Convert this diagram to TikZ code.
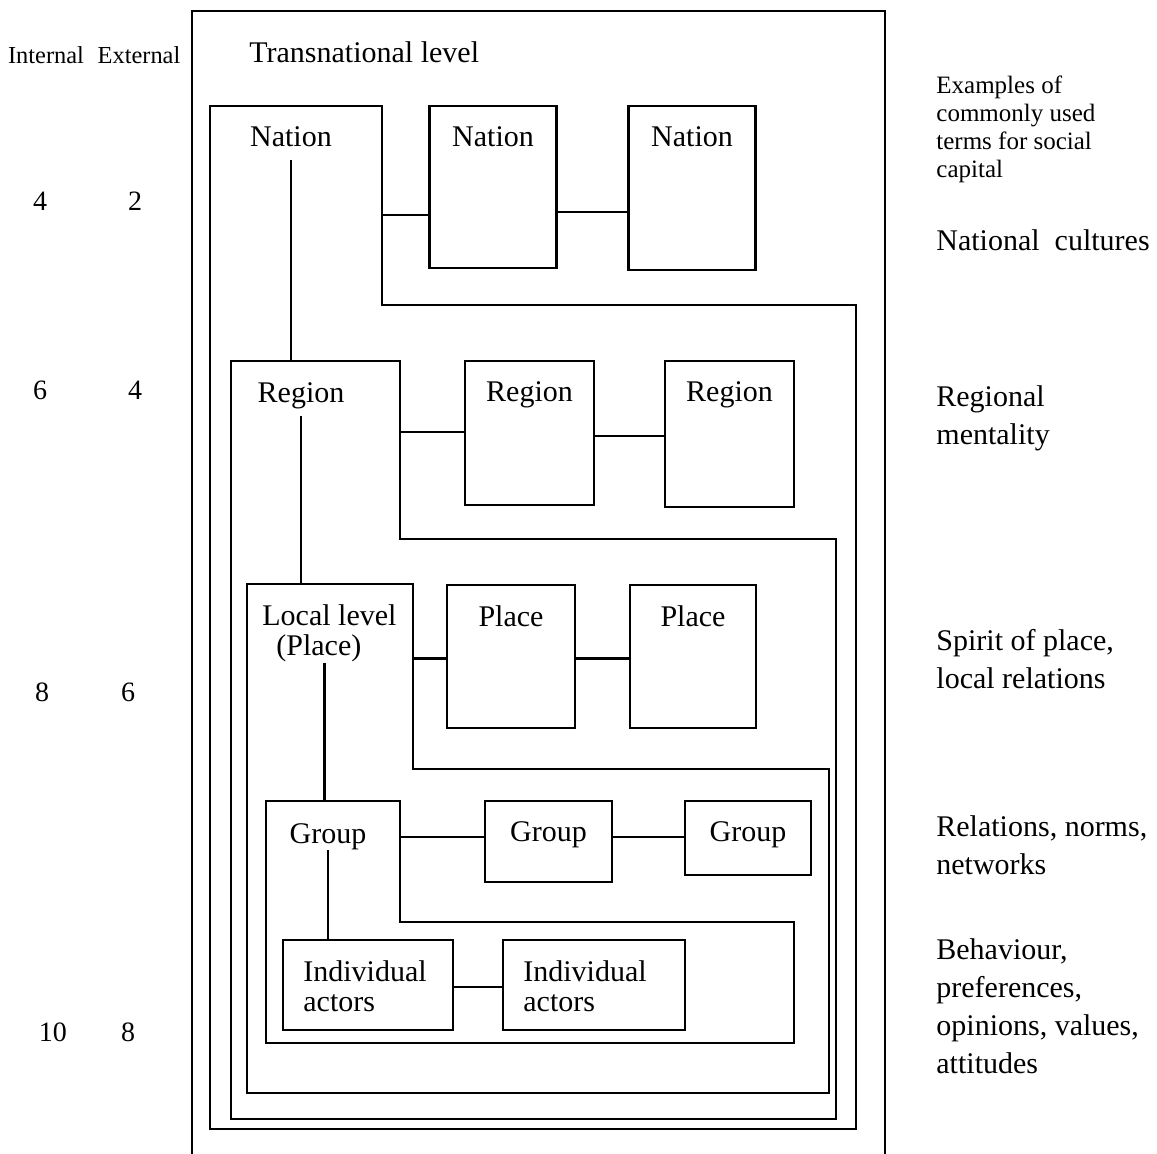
\documentclass[tikz,border=0pt]{standalone}
\usepackage{fontspec}
\setmainfont{Liberation Serif}
\usetikzlibrary{positioning,calc}

\tikzset{
  tier/.style={line width=1.1pt, line join=miter},
  tie/.style={line width=1.1pt},
  unitbox/.style={draw, line width=1.1pt, inner sep=0pt, outer sep=0pt},
  lbl/.style={font=\fontsize{15}{15.3}\selectfont, inner sep=0pt, align=center},
  term/.style={font=\fontsize{15}{19}\selectfont, inner sep=0pt, align=left, anchor=north west},
  smallterm/.style={font=\fontsize{12.5}{13.9}\selectfont, inner sep=0pt, align=left, anchor=north west},
  score/.style={font=\fontsize{14}{14}\selectfont, inner sep=0pt},
  colhead/.style={font=\fontsize{12.2}{12.2}\selectfont, inner sep=0pt},
}

\begin{document}
\begin{tikzpicture}[x=0.5pt, y=-0.5pt]
    \useasboundingbox (0,0) rectangle (1157,1154);

    % Transnational level
    \draw[tier] (192,1165) |- (885,11) -- (885,1165);
    \node[lbl, anchor=base west] (transl) at (249,63) {Transnational level};

    % Nation level
    \coordinate (natTL) at (210,106);
    \coordinate (natN) at (382,305);
    \coordinate (natBR) at (856,1129);
    \draw[tier] (natTL) -| (natN) -| (natBR) -| (natTL) -- cycle;
    \node[lbl, anchor=base] (nat1l) at (291,147) {Nation};
    \node[unitbox, minimum width=63.5pt, minimum height=81pt] (nat2) at (493,187) {};
    \node[unitbox, minimum width=63.5pt, minimum height=82pt] (nat3) at (692,188) {};
    \node[lbl, below=10pt of nat2.north] (nat2l) {Nation};
    \node[lbl, below=10pt of nat3.north] (nat3l) {Nation};
    \coordinate (natj1) at ([yshift=-14pt]nat2.west);
    \coordinate (natj2) at ([yshift=-12.5pt]nat2.east);
    \draw[tie] (natj1 -| natN) -- (natj1);
    \draw[tie] (natj2) -- (natj2 -| nat3.west);

    % Region level
    \coordinate (regTL) at (231,361);
    \coordinate (regN) at (400,539);
    \coordinate (regBR) at (836,1119);
    \draw[tier] (regTL) -| (regN) -| (regBR) -| (regTL) -- cycle;
    \node[lbl, anchor=base] (reg1l) at (301,403) {Region};
    \node[unitbox, minimum width=64.5pt, minimum height=72pt] (reg2) at (529.5,433) {};
    \node[unitbox, minimum width=64.5pt, minimum height=73pt] (reg3) at (729.5,434) {};
    \node[lbl, below=10pt of reg2.north] (reg2l) {Region};
    \node[lbl, below=10pt of reg3.north] (reg3l) {Region};
    \coordinate (regj1) at ([yshift=0.5pt]reg2.west);
    \coordinate (regj2) at ([yshift=-1.5pt]reg2.east);
    \draw[tie] (regj1 -| regN) -- (regj1);
    \draw[tie] (regj2) -- (regj2 -| reg3.west);
    \draw[tie] ([yshift=-6pt]nat1l.south) -- (nat1l.south |- regTL);

    % Local level
    \coordinate (locTL) at (247,584);
    \coordinate (locN) at (413,769);
    \coordinate (locBR) at (829,1093);
    \draw[tier] (locTL) -| (locN) -| (locBR) -| (locTL) -- cycle;
    \node[lbl, align=left, anchor=north west] (loc1l) at (262,604) {Local level\\\hspace*{7pt}(Place)};
    \node[unitbox, minimum width=64pt, minimum height=71.5pt] (loc2) at (511,656.5) {};
    \node[unitbox, minimum width=63pt, minimum height=71.5pt] (loc3) at (693,656.5) {};
    \node[lbl, below=10pt of loc2.north] (loc2l) {Place};
    \node[lbl, below=10pt of loc3.north] (loc3l) {Place};
    \coordinate (locj) at ([yshift=-1pt]loc2.west);
    \draw[tie] (locj -| locN) -- (locj);
    \draw[tie] (locj -| loc2.east) -- (locj -| loc3.west);
    \draw[tie] ([yshift=-3pt]reg1l.south) -- (reg1l.south |- locTL);

    % Group level
    \coordinate (grpTL) at (266,801);
    \coordinate (grpN) at (400,922);
    \coordinate (grpBR) at (794,1043);
    \draw[tier] (grpTL) -| (grpN) -| (grpBR) -| (grpTL) -- cycle;
    \node[lbl, anchor=base] (grp1l) at (328,843) {Group};
    \node[unitbox, minimum width=63.5pt, minimum height=40.5pt] (grp2) at (548.5,841.5) {};
    \node[unitbox, minimum width=63pt, minimum height=37pt] (grp3) at (748,838) {};
    \node[lbl, below=10pt of grp2.north] (grp2l) {Group};
    \node[lbl, below=10pt of grp3.north] (grp3l) {Group};
    \coordinate (grpj) at ([yshift=2.25pt]grp2.west);
    \draw[tie] (grpj -| grpN) -- (grpj);
    \draw[tie] (grpj -| grp2.east) -- (grpj -| grp3.west);
    \coordinate (locdrop) at ([xshift=-2.5pt]loc1l.south);
    \draw[tie] (locdrop) -- (locdrop |- grpTL);

    % Individual actors
    \node[unitbox, minimum width=85pt, minimum height=45pt] (ind1) at (368,985) {};
    \node[unitbox, minimum width=91pt, minimum height=45pt] (ind2) at (594,985) {};
    \node[lbl, align=left, below right=10pt and 10pt of ind1.north west] (ind1l) {Individual\\actors};
    \node[lbl, align=left, below right=10pt and 10pt of ind2.north west] (ind2l) {Individual\\actors};
    \coordinate (indj) at ([yshift=-1pt]ind1.east);
    \draw[tie] (indj) -- (indj -| ind2.west);
    \draw[tie] (grp1l.south) -- (grp1l.south |- ind1.north);

    % Internal / external counts
    \node[colhead] (inth) at (46,55) {Internal};
    \node[colhead] (exth) at (139,55) {External};
    \node[score] (int1) at (40,201) {4};
    \node[score] (ext1) at (135,201) {2};
    \node[score] (int2) at (40,390) {6};
    \node[score] (ext2) at (135,390) {4};
    \node[score] (int3) at (42,692) {8};
    \node[score] (ext3) at (128,692) {6};
    \node[score] (int4) at (53,1032) {10};
    \node[score] (ext4) at (128,1032) {8};

    % Terms for social capital
    \node[smallterm] (termh) at (936,76) {Examples of\\commonly used\\terms for social\\capital};
    \node[term] (term1) at (936,229) {National\ \ cultures};
    \node[term] (term2) at (936,385) {Regional\\mentality};
    \node[term] (term3) at (936,629) {Spirit of place,\\local relations};
    \node[term] (term4) at (936,815) {Relations, norms,\\networks};
    \node[term] (term5) at (936,938) {Behaviour,\\preferences,\\opinions, values,\\attitudes};
\end{tikzpicture}
\end{document}
